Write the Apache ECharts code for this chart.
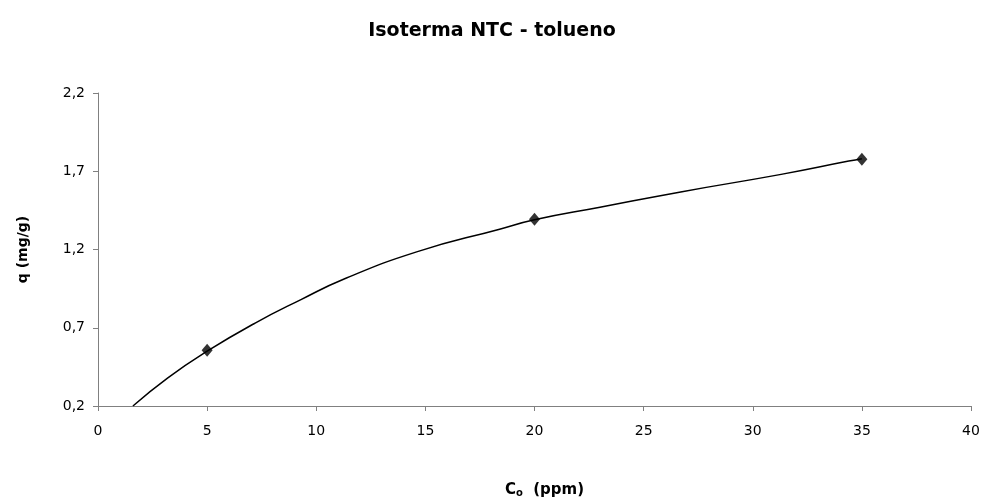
<!DOCTYPE html>
<html lang="es">
<head>
    <meta charset="UTF-8">
    <title>Isoterma NTC - tolueno</title>
    <script src="https://cdn.jsdelivr.net/npm/echarts@6/dist/echarts.min.js"></script>
    <style>
        html, body { margin: 0; padding: 0; background: #ffffff; }
    </style>
</head>
<body>
<div id="chart" style="width: 984px; height: 497px;"></div>
<script>
    // puntos experimentales (Co en ppm, q en mg/g)
    var co = [5, 20, 35];
    var q = [0.557, 1.393, 1.776];

    // linea de tendencia
    var trendX = [1.6, 3.2, 5, 7.2, 9.3, 11.25, 14.6, 18.4, 20, 23, 26.7, 31.3, 34.4, 35];
    var trendY = [0.20, 0.38, 0.55, 0.73, 0.88, 1.01, 1.185, 1.33, 1.39, 1.47, 1.568, 1.68, 1.765, 1.78];

    var yTicks = [0.2, 0.7, 1.2, 1.7, 2.2];

    var font = 'DejaVu Sans, sans-serif';
    var axisColor = '#808080';

    var myChart = echarts.init(document.getElementById('chart'));

    myChart.setOption({
        backgroundColor: '#ffffff',
        animation: false,
        title: {
            text: 'Isoterma NTC - tolueno',
            left: 'center',
            top: 17,
            textStyle: { fontFamily: font, fontSize: 19, fontWeight: 'bold', color: '#000' }
        },
        grid: { left: 98, right: 13, top: 93, bottom: 91, outerBoundsMode: 'none' },
        xAxis: {
            type: 'value',
            min: 0,
            max: 40,
            interval: 5,
            name: 'C{sub|o}  (ppm)',
            nameLocation: 'middle',
            nameGap: 76,
            nameTextStyle: {
                fontFamily: font, fontSize: 15, fontWeight: 'bold', color: '#000',
                padding: [0, 0, 0, 20],
                rich: { sub: { fontFamily: font, fontSize: 10, fontWeight: 'bold', verticalAlign: 'bottom', padding: [6, 0, 0, 0] } }
            },
            axisLine: { lineStyle: { color: axisColor, width: 1 } },
            axisTick: { inside: false, length: 5, lineStyle: { color: axisColor } },
            axisLabel: { fontFamily: font, fontSize: 14, color: '#000', margin: 18 },
            splitLine: { show: false }
        },
        yAxis: {
            type: 'value',
            min: 0.2,
            max: 2.2,
            name: 'q (mg/g)',
            nameLocation: 'middle',
            nameGap: 68,
            nameRotate: 90,
            nameTextStyle: { fontFamily: font, fontSize: 14, fontWeight: 'bold', color: '#000' },
            axisLine: { show: true, lineStyle: { color: axisColor, width: 1 } },
            axisTick: { show: true, length: 5, customValues: yTicks, lineStyle: { color: axisColor } },
            axisLabel: {
                fontFamily: font, fontSize: 14, color: '#000', margin: 13,
                customValues: yTicks,
                formatter: function (v) { return v.toFixed(1).replace('.', ','); }
            },
            splitLine: { show: false }
        },
        series: [{
            name: 'tendencia',
            type: 'line',
            smooth: true,
            symbol: 'none',
            lineStyle: { color: '#000', width: 1.5 },
            data: trendX.map(function (x, i) { return [x, trendY[i]]; }),
            z: 2
        }, {
            name: 'q',
            type: 'scatter',
            symbol: 'diamond',
            symbolSize: [11, 13],
            itemStyle: { color: '#000' },
            data: co.map(function (x, i) { return [x, q[i]]; }),
            z: 3
        }]
    });
</script>
</body>
</html>
